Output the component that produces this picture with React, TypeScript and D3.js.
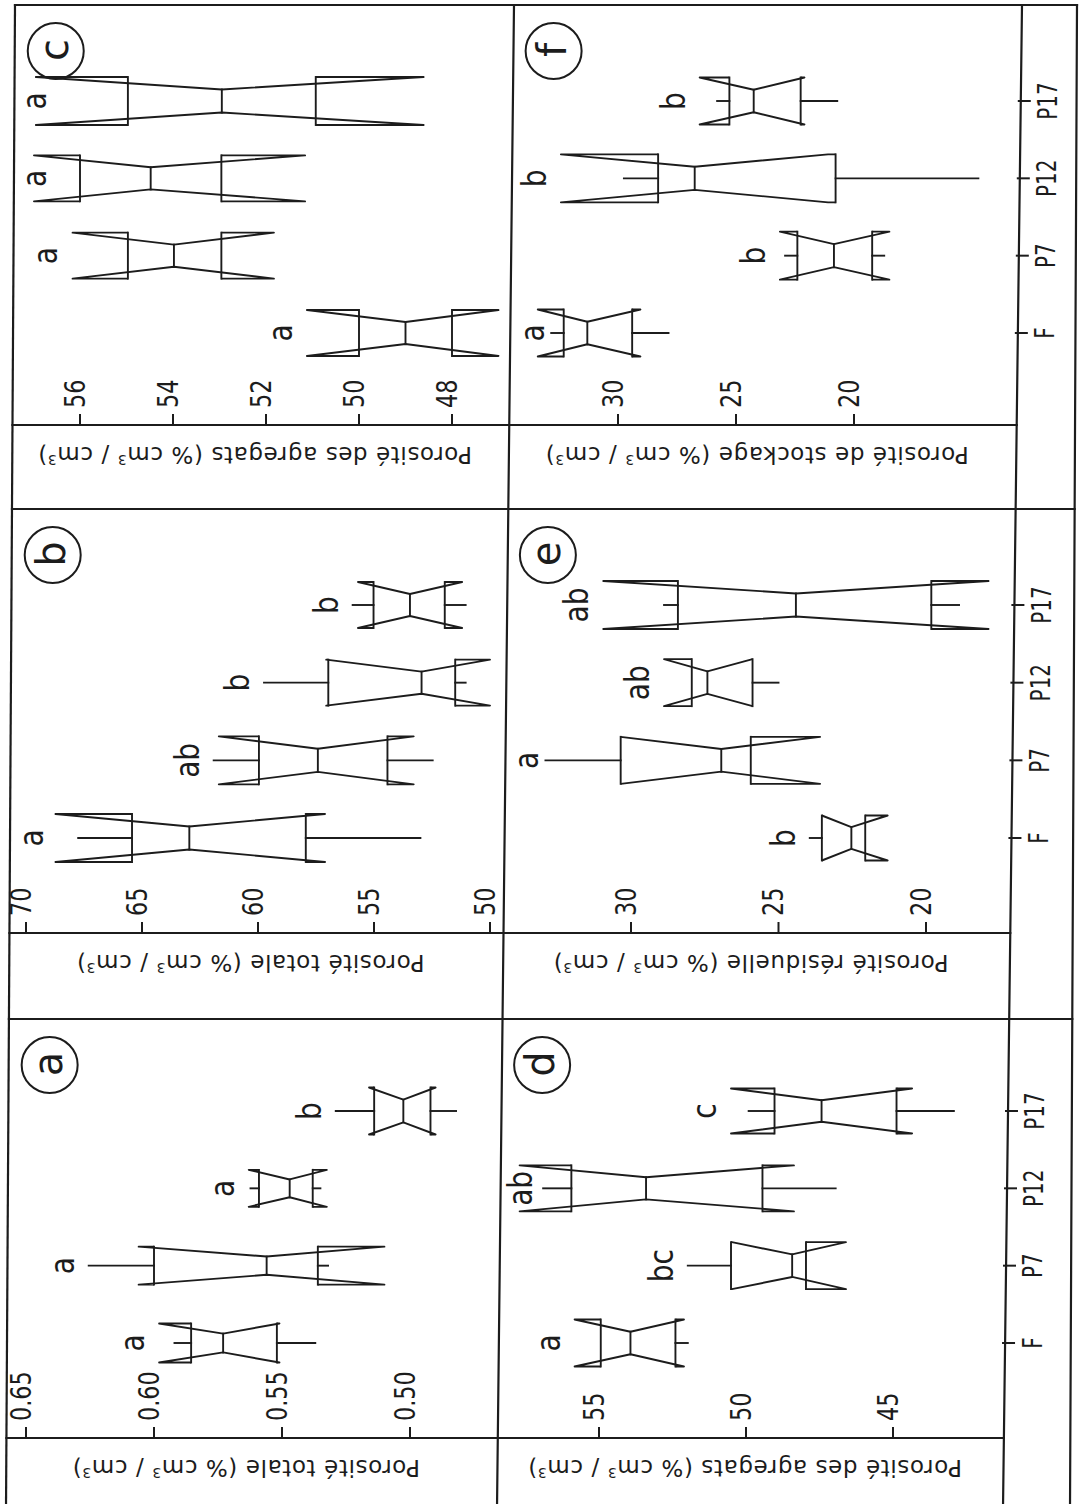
import React, { useEffect, useRef } from "react";
import * as d3 from "d3";

const categories = ["F", "P7", "P12", "P17"];

// each box: whisker low, lower quartile, notch low, median, notch high, upper quartile, whisker high
const totaleFraction = [
  { cat: "F", wLo: 0.537, q1: 0.552, nLo: 0.551, med: 0.573, nHi: 0.598, q3: 0.5855, wHi: 0.592 },
  { cat: "P7", wLo: 0.532, q1: 0.536, nLo: 0.51, med: 0.556, nHi: 0.606, q3: 0.6, wHi: 0.6255 },
  { cat: "P12", wLo: 0.535, q1: 0.538, nLo: 0.5325, med: 0.547, nHi: 0.563, q3: 0.559, wHi: 0.5623 },
  { cat: "P17", wLo: 0.482, q1: 0.492, nLo: 0.49, med: 0.5026, nHi: 0.516, q3: 0.514, wHi: 0.529 },
];
const totalePct = [
  { cat: "F", wLo: 53.0, q1: 57.94, nLo: 57.11, med: 62.96, nHi: 68.73, q3: 65.43, wHi: 67.75 },
  { cat: "P7", wLo: 52.47, q1: 54.42, nLo: 53.29, med: 57.42, nHi: 61.69, q3: 59.96, wHi: 61.91 },
  { cat: "P12", wLo: 51.05, q1: 51.5, nLo: 50.0, med: 52.95, nHi: 57.06, q3: 56.97, wHi: 59.74 },
  { cat: "P17", wLo: 51.05, q1: 51.95, nLo: 51.2, med: 53.45, nHi: 55.69, q3: 55.02, wHi: 55.92 },
];
const agregatsC = [
  { cat: "F", wLo: 48.0, q1: 48.0, nLo: 47.0, med: 49.0, nHi: 51.12, q3: 50.0, wHi: 50.0 },
  { cat: "P7", wLo: 52.96, q1: 52.96, nLo: 51.83, med: 53.98, nHi: 56.16, q3: 54.97, wHi: 54.97 },
  { cat: "P12", wLo: 52.96, q1: 52.96, nLo: 51.16, med: 54.48, nHi: 56.99, q3: 56.0, wHi: 56.0 },
  { cat: "P17", wLo: 50.93, q1: 50.93, nLo: 48.61, med: 52.95, nHi: 56.95, q3: 54.97, wHi: 54.97 },
];
const agregatsD = [
  { cat: "F", wLo: 51.98, q1: 52.4, nLo: 52.11, med: 53.93, nHi: 55.83, q3: 54.94, wHi: 54.94 },
  { cat: "P7", wLo: 47.96, q1: 47.96, nLo: 46.6, med: 48.43, nHi: 50.48, q3: 50.51, wHi: 51.98 },
  { cat: "P12", wLo: 46.95, q1: 49.44, nLo: 48.37, med: 53.4, nHi: 57.7, q3: 55.94, wHi: 56.9 },
  { cat: "P17", wLo: 42.93, q1: 44.88, nLo: 44.35, med: 47.43, nHi: 50.51, q3: 49.03, wHi: 49.91 },
];
const residuelle = [
  { cat: "F", wLo: 22.06, q1: 22.06, nLo: 21.3, med: 22.53, nHi: 23.53, q3: 23.53, wHi: 23.94 },
  { cat: "P7", wLo: 25.94, q1: 25.94, nLo: 23.59, med: 26.94, nHi: 30.35, q3: 30.35, wHi: 32.9 },
  { cat: "P12", wLo: 25.0, q1: 25.88, nLo: 25.88, med: 27.41, nHi: 28.88, q3: 27.94, wHi: 27.94 },
  { cat: "P17", wLo: 18.88, q1: 19.82, nLo: 17.88, med: 24.41, nHi: 30.94, q3: 28.41, wHi: 28.88 },
];
const stockage = [
  { cat: "F", wLo: 27.86, q1: 29.4, nLo: 29.05, med: 31.3, nHi: 33.4, q3: 32.3, wHi: 32.83 },
  { cat: "P7", wLo: 18.72, q1: 19.23, nLo: 18.5, med: 20.85, nHi: 23.14, q3: 22.4, wHi: 22.92 },
  { cat: "P12", wLo: 14.73, q1: 20.78, nLo: 21.1, med: 26.75, nHi: 32.42, q3: 28.3, wHi: 29.75 },
  { cat: "P17", wLo: 20.71, q1: 22.26, nLo: 22.1, med: 24.25, nHi: 26.54, q3: 25.28, wHi: 25.8 },
];

const lettersA = ["a", "a", "a", "b"];
const lettersB = ["a", "ab", "b", "b"];
const lettersC = ["a", "a", "a", "a"];
const lettersD = ["a", "bc", "ab", "c"];
const lettersE = ["b", "a", "ab", "ab"];
const lettersF = ["a", "b", "b", "b"];

const ticksA = [0.5, 0.55, 0.6, 0.65];
const ticksB = [50, 55, 60, 65, 70];
const ticksC = [48, 50, 52, 54, 56];
const ticksD = [45, 50, 55];
const ticksE = [20, 25, 30];
const ticksF = [20, 25, 30];

const W = 1081;
const H = 1504;
const TOP = 5;
const INK = "#1c1c1c";
const FONT = "DejaVu Sans";

// the scan is slightly skewed, so the long rules are given as [x at top, x at bottom]
const leftFrame = [15, 6];
const divider = [514, 497];
const catAxis = [1022, 1003];
const rightFrame = [1077, 1070];

const rows = [
  { top: TOP, strip: 425, bottom: 509, cat: [333, 101] },
  { top: 509, strip: 933, bottom: 1019, cat: [838, 605] },
  { top: 1019, strip: 1438, bottom: H, cat: [1343, 1111] },
];

const panels = [
  { id: "a", data: totaleFraction, letters: lettersA, ticks: ticksA, fmt: ".2f", title: "Porosité totale", row: 2, col: 0, px: [26, 410], widths: [39, 38, 37, 47] },
  { id: "b", data: totalePct, letters: lettersB, ticks: ticksB, fmt: "d", title: "Porosité totale", row: 1, col: 0, px: [26, 490], widths: [48, 48, 46, 46] },
  { id: "c", data: agregatsC, letters: lettersC, ticks: ticksC, fmt: "d", title: "Porosité des agregats", row: 0, col: 0, px: [80, 452], widths: [46, 46, 46, 48] },
  { id: "d", data: agregatsD, letters: lettersD, ticks: ticksD, fmt: "d", title: "Porosité des agregats", row: 2, col: 1, px: [599, 893], widths: [47, 47, 46, 45] },
  { id: "e", data: residuelle, letters: lettersE, ticks: ticksE, fmt: "d", title: "Porosité résiduelle", row: 1, col: 1, px: [631, 926], widths: [45, 47, 47, 48] },
  { id: "f", data: stockage, letters: lettersF, ticks: ticksF, fmt: "d", title: "Porosité de stockage", row: 0, col: 1, px: [618, 854], widths: [47, 48, 48, 47] },
];

function xAt(line, y) {
  return line[0] + ((line[1] - line[0]) * (y - TOP)) / (H - TOP);
}

function rule(g, x1, y1, x2, y2, w = 2.2) {
  g.append("line")
    .attr("x1", x1).attr("y1", y1).attr("x2", x2).attr("y2", y2)
    .attr("stroke", INK).attr("stroke-width", w).attr("stroke-linecap", "square");
}

function upText(g, x, y, str, size, anchor = "middle", squeeze = 1) {
  return g.append("text")
    .attr("transform", `translate(${x},${y}) rotate(-90) scale(${squeeze},1)`)
    .attr("text-anchor", anchor)
    .attr("dy", "0.35em")
    .attr("font-size", size)
    .attr("font-family", FONT)
    .attr("fill", INK)
    .text(str);
}

function drawFrame(svg) {
  const g = svg.append("g");
  [leftFrame, divider, catAxis, rightFrame].forEach((l) => rule(g, l[0], TOP, l[1], H + 5));
  [TOP, rows[0].bottom, rows[1].bottom].forEach((y) => rule(g, xAt(leftFrame, y), y, xAt(rightFrame, y), y));
  rows.forEach((r) => rule(g, xAt(leftFrame, r.strip), r.strip, xAt(catAxis, r.strip), r.strip));

  // category axis of the right column, one per row
  rows.forEach((r) => {
    const y = d3.scalePoint().domain(categories).range(r.cat);
    categories.forEach((c) => {
      const x0 = xAt(catAxis, y(c));
      rule(g, x0 - 2, y(c), x0 + 9, y(c), 2);
      upText(g, x0 + 27, y(c), c, 27, "middle", 0.74);
    });
  });
}

function drawPanel(svg, p) {
  const r = rows[p.row];
  const g = svg.append("g").attr("class", `panel-${p.id}`);
  const midY = (r.top + r.strip) / 2;
  const left = p.col === 0 ? xAt(leftFrame, midY) : xAt(divider, midY);
  const right = p.col === 0 ? xAt(divider, midY) : xAt(catAxis, midY);

  const x = d3.scaleLinear().domain([d3.max(p.ticks), d3.min(p.ticks)]).range(p.px);
  const y = d3.scalePoint().domain(categories).range(r.cat);
  const fmt = d3.format(p.fmt);

  // value axis: ticks point into the plot from the label strip
  p.ticks.forEach((t) => {
    rule(g, x(t), r.strip, x(t), r.strip - 10, 2);
    upText(g, x(t) - 5, r.strip - 17, fmt(t), 28, "start", 0.8);
  });

  // axis title, written upside down in the strip
  const tx = (xAt(p.col === 0 ? leftFrame : divider, r.strip) + xAt(p.col === 0 ? divider : catAxis, r.strip)) / 2 - 6;
  const title = g.append("text")
    .attr("transform", `translate(${tx},${r.strip + 30}) rotate(180)`)
    .attr("text-anchor", "middle")
    .attr("dy", "0.35em")
    .attr("font-size", 23)
    .attr("font-family", FONT)
    .attr("letter-spacing", 0.6)
    .attr("fill", INK)
    .style("white-space", "pre");
  title.append("tspan").text(`${p.title} (% cm`);
  title.append("tspan").attr("baseline-shift", "super").attr("font-size", 14).text("3");
  title.append("tspan").text(" / cm");
  title.append("tspan").attr("baseline-shift", "super").attr("font-size", 14).text("3");
  title.append("tspan").text(")");

  // panel letter in a circle
  const cx = left + 42;
  const cy = r.top + 46;
  g.append("circle").attr("cx", cx).attr("cy", cy).attr("r", 28)
    .attr("fill", "none").attr("stroke", INK).attr("stroke-width", 2);
  upText(g, cx, cy - 1, p.id, 40, "middle", 1).attr("dy", "0.3em");

  // notched boxes
  p.data.forEach((b, i) => {
    const cyb = y(b.cat);
    const hw = p.widths[i] / 2;
    const neck = hw * 0.48;
    const side = (s) => d3.line()([
      [x(b.q3), cyb + s * hw],
      [x(b.nHi), cyb + s * hw],
      [x(b.med), cyb + s * neck],
      [x(b.nLo), cyb + s * hw],
      [x(b.q1), cyb + s * hw],
    ]);
    [-1, 1].forEach((s) => g.append("path").attr("d", side(s))
      .attr("fill", "none").attr("stroke", INK).attr("stroke-width", 1.9).attr("stroke-linejoin", "round"));
    rule(g, x(b.q3), cyb - hw, x(b.q3), cyb + hw, 1.9);
    rule(g, x(b.q1), cyb - hw, x(b.q1), cyb + hw, 1.9);
    rule(g, x(b.med), cyb - neck, x(b.med), cyb + neck, 1.9);
    if (b.wHi !== b.q3) rule(g, x(b.wHi), cyb, x(b.q3), cyb, 1.9);
    if (b.wLo !== b.q1) rule(g, x(b.q1), cyb, x(b.wLo), cyb, 1.9);

    const topX = Math.min(x(b.wHi), x(b.nHi), x(b.q3));
    const lx = Math.max(topX - 25, left + 22);
    upText(g, lx, cyb, p.letters[i], 33, "middle", 0.85).attr("dy", "0.3em");
  });
}

export default function App() {
  const ref = useRef(null);

  useEffect(() => {
    const svg = d3.select(ref.current);
    svg.selectAll("*").remove();
    svg.append("rect").attr("width", W).attr("height", H).attr("fill", "#fff");
    drawFrame(svg);
    panels.forEach((p) => drawPanel(svg, p));
  }, []);

  return (
    <div style={{ position: "absolute", left: 0, top: 0 }}>
      <svg ref={ref} width={W} height={H} style={{ display: "block" }} />
    </div>
  );
}
